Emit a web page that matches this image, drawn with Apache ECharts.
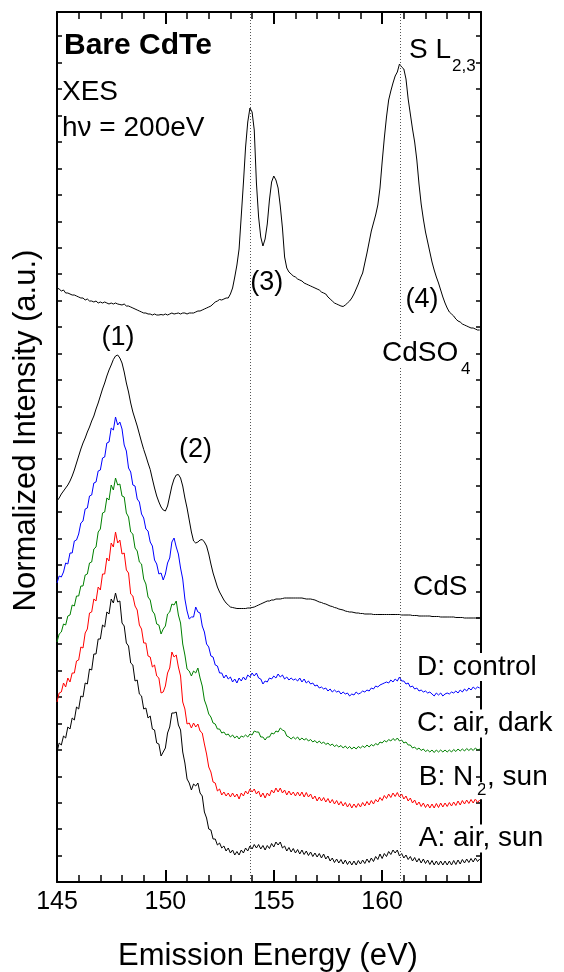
<!DOCTYPE html>
<html><head><meta charset="utf-8">
<script src="https://cdn.jsdelivr.net/npm/echarts/dist/echarts.min.js"></script>
<style>html,body{margin:0;padding:0;background:#fff}#c{width:564px;height:972px}</style>
</head><body><div id="c"></div>
<script>
// Emission energy grid (eV)
const energy = [
145.0,145.1,145.2,145.3,145.4,145.5,145.6,145.7,145.8,145.9,
146.0,146.1,146.2,146.3,146.4,146.5,146.6,146.7,146.8,146.9,
147.0,147.1,147.2,147.3,147.4,147.5,147.6,147.7,147.8,147.9,
148.0,148.1,148.2,148.3,148.4,148.5,148.6,148.7,148.8,148.9,
149.0,149.1,149.2,149.3,149.4,149.5,149.6,149.7,149.8,149.9,
150.0,150.1,150.2,150.3,150.4,150.5,150.6,150.7,150.8,150.9,
151.0,151.1,151.2,151.3,151.4,151.5,151.6,151.7,151.8,151.9,
152.0,152.1,152.2,152.3,152.4,152.5,152.6,152.7,152.8,152.9,
153.0,153.1,153.2,153.3,153.4,153.5,153.6,153.7,153.8,153.9,
154.0,154.1,154.2,154.3,154.4,154.5,154.6,154.7,154.8,154.9,
155.0,155.1,155.2,155.3,155.4,155.5,155.6,155.7,155.8,155.9,
156.0,156.1,156.2,156.3,156.4,156.5,156.6,156.7,156.8,156.9,
157.0,157.1,157.2,157.3,157.4,157.5,157.6,157.7,157.8,157.9,
158.0,158.1,158.2,158.3,158.4,158.5,158.6,158.7,158.8,158.9,
159.0,159.1,159.2,159.3,159.4,159.5,159.6,159.7,159.8,159.9,
160.0,160.1,160.2,160.3,160.4,160.5,160.6,160.7,160.8,160.9,
161.0,161.1,161.2,161.3,161.4,161.5,161.6,161.7,161.8,161.9,
162.0,162.1,162.2,162.3,162.4,162.5,162.6,162.7,162.8,162.9,
163.0,163.1,163.2,163.3,163.4,163.5,163.6,163.7,163.8,163.9,
164.0,164.1,164.2,164.3,164.4,164.5];

// Normalized intensities (offset, a.u.)
const cdso4 = [
59.4,59.3,59.1,59.2,58.9,58.9,58.8,58.7,58.7,58.6,
58.5,58.4,58.4,58.2,58.3,58.1,58.1,58.0,58.1,57.9,
58.0,57.9,58.0,57.9,57.8,57.9,57.8,57.9,57.8,57.75,
57.7,57.8,57.6,57.6,57.5,57.4,57.3,57.2,57.1,57.0,
56.9,56.9,56.8,56.8,56.7,56.8,56.7,56.7,56.75,56.7,
56.8,56.7,56.8,56.9,56.8,56.85,56.9,56.8,56.9,56.9,
56.8,56.9,56.9,56.9,57.0,57.1,57.1,57.2,57.3,57.4,
57.5,57.6,57.8,58.0,58.1,58.25,58.2,58.3,58.4,58.4,
58.8,59.4,60.5,61.7,63.3,66.6,69.9,73.5,76.0,77.4,
77.0,75.2,69.9,66.5,64.5,63.6,64.3,65.8,68.2,70.0,
70.6,70.2,69.4,67.6,65.4,62.5,61.4,61.0,60.8,60.6,
60.5,60.3,60.2,60.1,59.9,59.8,59.7,59.6,59.5,59.4,
59.3,59.2,59.0,58.9,58.8,58.5,58.3,58.1,57.9,57.8,
57.7,57.6,57.55,57.7,57.9,58.1,58.4,58.8,59.3,59.8,
60.4,60.9,61.9,62.9,64.0,65.1,65.9,66.7,67.7,69.4,
72.0,74.4,76.5,78.2,79.1,79.9,80.6,81.0,81.8,81.5,
81.3,80.3,78.3,76.8,75.3,74.0,72.2,69.8,67.8,66.3,
65.0,64.0,63.0,62.0,61.2,60.5,59.9,59.2,58.5,57.9,
57.4,57.0,56.8,56.6,56.3,56.1,56.0,55.8,55.7,55.6,
55.5,55.4,55.4,55.3,55.2,55.2];

const cds = [
38.1,38.4,38.8,39.1,39.4,39.7,40.1,40.6,41.2,41.9,
42.6,43.3,43.9,44.4,45.0,45.5,46.1,46.6,47.3,47.9,
48.6,49.3,49.9,50.6,51.2,51.7,52.25,52.6,52.7,52.4,
51.9,51.0,49.9,49.0,47.9,47.0,46.3,45.6,44.8,44.0,
43.25,42.6,41.9,41.25,40.3,39.4,38.6,38.0,37.5,37.2,
37.1,37.6,38.6,39.6,40.3,40.7,40.75,40.4,39.6,38.4,
37.4,36.2,35.0,34.1,33.9,34.0,34.2,34.25,34.0,33.6,
32.8,31.8,30.9,30.2,29.5,29.0,28.6,28.2,27.9,27.7,
27.5,27.45,27.4,27.35,27.35,27.35,27.35,27.35,27.4,27.4,
27.45,27.5,27.6,27.7,27.8,27.9,28.0,28.1,28.1,28.2,
28.2,28.3,28.3,28.3,28.35,28.4,28.4,28.4,28.4,28.4,
28.4,28.4,28.4,28.4,28.35,28.3,28.3,28.3,28.25,28.2,
28.1,28.0,27.95,27.85,27.8,27.7,27.6,27.55,27.45,27.4,
27.3,27.25,27.2,27.1,27.05,27.0,27.0,26.95,26.9,26.9,
26.85,26.85,26.8,26.8,26.8,26.8,26.75,26.75,26.75,26.75,
26.75,26.75,26.75,26.75,26.75,26.75,26.75,26.75,26.75,26.7,
26.7,26.7,26.7,26.7,26.65,26.65,26.65,26.6,26.6,26.6,
26.6,26.6,26.6,26.55,26.55,26.55,26.55,26.5,26.5,26.5,
26.5,26.5,26.5,26.5,26.45,26.45,26.45,26.45,26.4,26.4,
26.4,26.4,26.4,26.4,26.4,26.4];

const dControl = [
29.9,30.6,30.5,31.0,31.9,31.8,32.9,32.9,34.1,34.2,
34.8,35.9,36.1,37.3,37.4,38.6,38.7,39.9,40.0,41.1,
41.2,42.4,42.5,43.9,44.0,45.4,45.2,46.5,45.7,46.0,
45.3,43.7,43.1,41.4,41.0,39.7,39.6,38.3,38.0,36.8,
36.4,35.3,35.1,34.0,33.6,32.2,31.8,30.8,30.9,30.2,
30.8,31.9,32.4,34.0,34.4,33.5,32.8,31.4,30.3,28.3,
27.1,26.3,26.5,26.5,27.5,27.0,26.9,25.6,25.0,23.8,
23.5,22.6,22.5,21.7,21.6,20.9,20.9,20.4,20.7,20.3,
20.5,20.0,20.3,19.9,20.4,20.1,20.5,20.2,20.7,20.5,
20.9,20.6,20.9,20.4,20.3,19.8,20.1,20.0,20.4,20.3,
20.6,20.4,20.8,20.5,20.7,20.3,20.5,20.2,20.4,20.2,
20.3,20.1,20.4,20.0,20.3,19.9,20.1,19.8,19.9,19.6,
19.7,19.4,19.5,19.3,19.4,19.1,19.3,19.0,19.2,19.0,
19.1,18.8,19.0,18.8,18.9,18.6,18.8,18.7,19.0,18.8,
18.9,19.1,19.0,19.2,19.1,19.4,19.3,19.6,19.5,19.7,
19.8,19.9,20.0,19.9,20.2,20.0,20.3,20.1,20.5,20.1,
20.1,19.8,19.9,19.5,19.6,19.3,19.4,19.1,19.2,19.0,
19.1,18.9,19.0,18.8,18.6,18.9,18.7,18.9,18.6,18.8,
18.9,18.8,19.0,18.9,19.1,18.9,19.2,19.0,19.3,19.1,
19.4,19.2,19.5,19.3,19.5,19.4];

const cAirDark = [
24.0,24.8,25.0,25.8,25.7,26.6,26.7,27.7,27.6,28.6,
28.6,29.6,29.6,30.7,30.8,31.9,32.0,33.3,33.5,35.0,
35.3,36.9,37.0,38.4,38.2,39.7,39.2,40.4,39.7,39.8,
38.6,38.5,36.9,36.5,35.0,34.8,33.4,33.1,32.0,31.8,
30.3,29.8,28.5,28.2,27.1,26.8,25.8,25.7,24.8,25.3,
25.6,26.8,27.0,27.8,27.7,28.1,26.7,25.9,23.8,22.7,
21.3,21.1,20.6,21.1,20.9,21.4,20.4,19.6,18.2,17.6,
16.8,16.5,15.9,15.8,15.3,15.3,14.9,15.0,14.7,14.8,
14.5,14.7,14.4,14.6,14.3,14.6,14.5,14.7,14.5,14.8,
14.7,15.1,15.0,15.0,14.5,14.5,14.2,14.5,14.5,14.9,
14.8,15.1,15.0,15.4,15.2,15.1,14.6,14.5,14.3,14.5,
14.3,14.5,14.2,14.4,14.2,14.35,14.1,14.25,14.0,14.15,
13.9,14.1,13.85,14.0,13.75,13.9,13.65,13.8,13.55,13.7,
13.5,13.65,13.4,13.6,13.35,13.55,13.3,13.5,13.3,13.55,
13.4,13.6,13.45,13.7,13.5,13.75,13.6,13.85,13.7,14.0,
13.9,14.15,14.0,14.25,14.1,14.35,14.15,14.4,14.1,14.2,
13.9,14.0,13.7,13.7,13.4,13.5,13.25,13.4,13.15,13.3,
13.05,13.2,13.0,13.2,12.95,13.2,13.0,13.2,13.0,13.2,
13.0,13.2,13.0,13.25,13.05,13.3,13.1,13.3,13.1,13.35,
13.15,13.35,13.15,13.4,13.2,13.3];

const bN2Sun = [
18.0,18.9,19.0,19.9,19.5,20.4,20.0,20.9,20.9,22.1,
22.2,23.5,23.4,24.9,25.3,26.9,27.0,28.3,28.1,29.5,
29.2,30.8,30.8,32.4,32.1,33.9,33.5,35.0,33.9,34.2,
32.8,32.9,31.2,30.9,28.8,28.6,27.6,27.2,25.7,25.3,
23.9,23.9,22.6,22.5,21.5,21.7,20.6,20.4,18.9,19.0,
19.6,20.9,21.4,23.0,22.5,22.7,21.5,20.6,18.0,17.3,
15.8,15.9,15.4,15.9,15.5,15.8,15.1,14.9,13.8,12.8,
11.5,11.0,10.0,9.9,9.1,9.3,8.7,9.0,8.6,8.9,
8.5,8.9,8.5,8.8,8.3,8.9,8.6,9.1,8.8,9.3,
9.0,9.3,8.8,9.1,8.5,8.9,8.4,8.9,8.6,9.2,
8.9,9.4,9.0,9.4,8.9,9.2,8.7,9.1,8.7,9.0,
8.6,9.0,8.6,9.0,8.5,8.95,8.5,8.8,8.3,8.6,
8.1,8.5,8.1,8.45,8.0,8.35,7.9,8.25,7.8,8.15,
7.7,8.05,7.6,7.95,7.5,7.85,7.4,7.8,7.45,7.85,
7.5,7.95,7.6,8.05,7.7,8.15,7.8,8.25,8.0,8.45,
8.15,8.65,8.35,8.8,8.45,8.9,8.55,8.95,8.5,8.8,
8.3,8.6,8.1,8.4,7.9,8.2,7.7,8.0,7.55,7.9,
7.45,7.8,7.4,7.8,7.4,7.85,7.45,7.9,7.5,7.9,
7.55,7.95,7.6,8.0,7.65,8.1,7.7,8.15,7.8,8.2,
7.85,8.25,7.9,8.3,7.95,8.2];

const aAirSun = [
13.0,13.9,13.7,14.6,14.4,15.5,15.3,16.4,16.2,17.5,
17.3,18.6,18.5,19.9,19.8,21.3,21.2,22.8,22.8,24.3,
24.3,25.7,25.5,27.0,26.8,28.3,27.9,28.9,28.0,28.1,
25.9,25.6,23.9,23.6,21.9,21.7,20.1,20.2,18.8,18.6,
17.3,17.4,16.4,16.6,15.3,15.2,13.9,13.8,12.6,13.0,
13.4,14.9,15.5,16.9,16.9,17.0,15.7,15.2,13.0,11.9,
10.3,9.9,9.2,9.8,9.6,9.9,8.9,8.6,7.0,6.4,
5.3,5.2,4.3,4.3,3.7,3.9,3.4,3.6,3.1,3.4,
2.9,3.2,2.7,3.05,2.7,3.2,2.9,3.4,3.1,3.6,
3.3,3.75,3.4,3.75,3.3,3.65,3.2,3.65,3.35,3.85,
3.5,4.0,3.7,4.0,3.4,3.6,3.1,3.45,3.0,3.35,
2.9,3.25,2.8,3.2,2.75,3.1,2.65,3.0,2.55,2.9,
2.5,2.85,2.4,2.8,2.3,2.6,2.1,2.4,1.95,2.3,
1.9,2.25,1.8,2.2,1.75,2.1,1.7,2.1,1.7,2.15,
1.8,2.2,1.85,2.3,1.95,2.4,2.05,2.55,2.25,2.8,
2.35,2.85,2.55,3.05,2.75,3.2,2.9,3.2,2.6,2.85,
2.4,2.7,2.25,2.55,2.1,2.45,2.0,2.35,1.9,2.3,
1.85,2.2,1.75,2.15,1.7,2.1,1.7,2.1,1.7,2.1,
1.7,2.1,1.7,2.15,1.75,2.2,1.8,2.25,1.9,2.3,
1.95,2.35,2.0,2.4,2.05,2.3];

const xTickLabels = [145, 150, 155, 160];
const refLines = [153.92, 160.83];

const FONT = '"Liberation Sans", Arial, Helvetica, sans-serif';
const seriesDefs = [
  {name: 'CdSO4', values: cdso4, color: '#000000'},
  {name: 'CdS', values: cds, color: '#000000'},
  {name: 'D: control', values: dControl, color: '#0000ff'},
  {name: 'C: air, dark', values: cAirDark, color: '#008000'},
  {name: 'B: N2, sun', values: bN2Sun, color: '#ff0000'},
  {name: 'A: air, sun', values: aAirSun, color: '#000000'}
];

const xCommon = {
  type: 'value', min: 145, max: 164.56, interval: 5, gridIndex: 0,
  axisLine: {show: true, onZero: false, lineStyle: {color: '#000', width: 2}},
  axisTick: {show: true, inside: true, length: 12, lineStyle: {color: '#000', width: 2}},
  minorTick: {show: true, splitNumber: 5, length: 7, lineStyle: {color: '#000', width: 1.5}},
  splitLine: {show: false}, minorSplitLine: {show: false}
};
const yCommon = {
  type: 'value', min: 0, max: 87.0, interval: 2.643, gridIndex: 0,
  axisLine: {show: true, onZero: false, lineStyle: {color: '#000', width: 2}},
  axisTick: {show: true, inside: true, length: 5, lineStyle: {color: '#000', width: 1.5}},
  axisLabel: {show: false}, splitLine: {show: false}
};

function txt(text, x, y, size, opt) {
  opt = opt || {};
  const st = {text: text, fontSize: size, fontFamily: FONT, fill: '#000',
    align: opt.align || 'left', verticalAlign: 'middle',
    fontWeight: opt.bold ? 'bold' : 'normal'};
  if (opt.bg) { st.backgroundColor = '#fff'; st.padding = [0, 2]; }
  return {type: 'text', z: 100, x: x, y: y, rotation: opt.rot || 0, style: st};
}

const chart = echarts.init(document.getElementById('c'), null, {renderer: 'canvas'});
chart.setOption({
  animation: false,
  backgroundColor: '#fff',
  grid: {left: 57, right: 83, top: 12, bottom: 90, containLabel: false, outerBoundsMode: 'none'},
  xAxis: [
    Object.assign({}, xCommon, {position: 'bottom',
      axisLabel: {show: true, fontSize: 25, color: '#000', fontFamily: FONT, margin: 8,
        formatter: function (v) { return xTickLabels.indexOf(v) >= 0 ? String(v) : ''; }}}),
    Object.assign({}, xCommon, {position: 'top', axisLabel: {show: false}})
  ],
  yAxis: [
    Object.assign({}, yCommon, {position: 'left'}),
    Object.assign({}, yCommon, {position: 'right'})
  ],
  series: seriesDefs.map(function (s, i) {
    const o = {
      name: s.name, type: 'line', xAxisIndex: 0, yAxisIndex: 0,
      showSymbol: false, symbol: 'none', smooth: false,
      lineStyle: {color: s.color, width: 1}, itemStyle: {color: s.color},
      data: energy.map(function (x, k) { return [x, s.values[k]]; })
    };
    if (i === 0) {
      o.markLine = {silent: true, symbol: ['none', 'none'], label: {show: false},
        lineStyle: {type: [1, 2], color: '#555', width: 1},
        data: refLines.map(function (v) { return {xAxis: v}; })};
    }
    return o;
  }),
  graphic: [
    txt('Bare CdTe', 64, 45.5, 30, {bold: true}),
    txt('XES', 62, 92, 28),
    txt('h\u03bd = 200eV', 62, 128.5, 28),
    txt('S L', 409, 50.2, 28),
    txt('2,3', 452, 66, 17),
    txt('(1)', 118, 338, 27, {align: 'center'}),
    txt('(2)', 195.5, 450, 27, {align: 'center'}),
    txt('(3)', 266.7, 283, 27, {align: 'center'}),
    txt('(4)', 422, 300, 27, {align: 'center'}),
    txt('CdSO', 380, 353.5, 28, {bg: true}),
    txt('4', 461, 369, 17),
    txt('CdS', 413, 587, 28),
    txt('D: control', 415, 667, 28, {bg: true}),
    txt('C: air, dark', 415, 723.5, 28, {bg: true}),
    txt('B: N', 416.7, 777, 28, {bg: true}),
    txt('2', 475, 790.7, 17, {bg: true}),
    txt(', sun', 485, 777, 28, {bg: true}),
    txt('A: air, sun', 416.7, 838.5, 28, {bg: true}),
    txt('Emission Energy (eV)', 268, 956, 31, {align: 'center'}),
    txt('Normalized Intensity (a.u.)', 26, 430.5, 31, {align: 'center', rot: Math.PI / 2})
  ]
});
</script>
</body></html>
